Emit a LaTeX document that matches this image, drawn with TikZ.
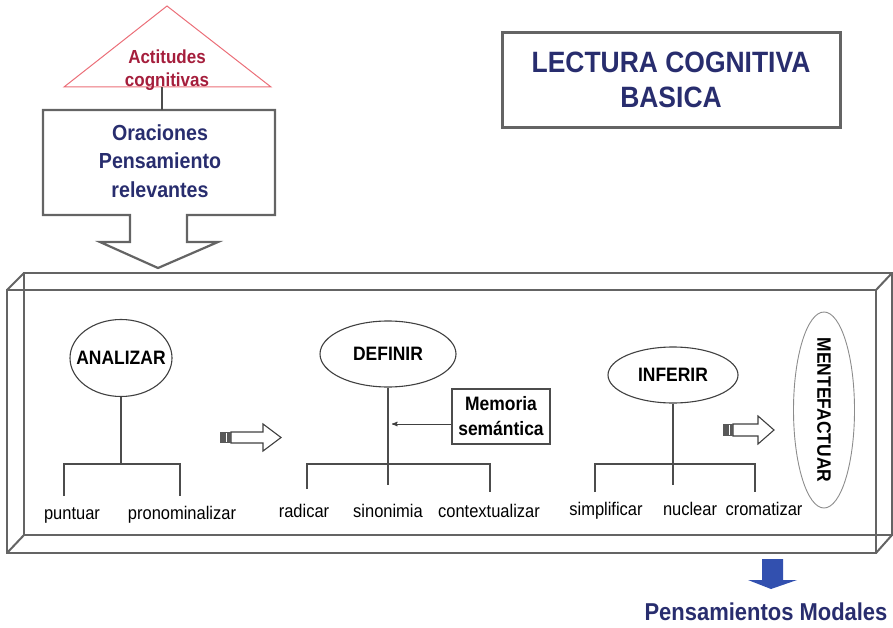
\documentclass[tikz,border=0pt]{standalone}
\usepackage{fontspec}
\setmainfont{Liberation Sans}[FakeStretch=0.9]
\usetikzlibrary{shapes.geometric, positioning, arrows}
\definecolor{navy}{RGB}{40,45,110}
\definecolor{vino}{RGB}{165,30,60}
\definecolor{rosa}{RGB}{235,110,120}
\definecolor{gris}{RGB}{100,100,100}
\definecolor{azul}{RGB}{50,80,175}
\tikzset{
x=1pt, y=-1pt, % one unit per pixel of the sketch, y going down
>=stealth', % small filled tips
idea/.style={ellipse, draw=black!75, line width=1.1pt}, % the verbs
idea text/.style={font=\bfseries\fontsize{19.4}{23}\selectfont},
hoja/.style={anchor=base, inner sep=0pt, font=\fontsize{18.3}{22}\selectfont}, % words under each bracket
rama/.style={draw=black!70, line width=1.2pt}, % tree lines
marco/.style={draw=gris, line width=2.2pt}, % frames
flecha/.style={draw=black!75, line width=1.1pt, fill=white}, % hollow block arrows
}
\begin{document}
\begin{tikzpicture}
\useasboundingbox (0,0) rectangle (893,628);

% title
\node[marco, line width=3pt, minimum width=338pt, minimum height=95pt, align=center,
      text=navy, font=\bfseries\fontsize{29.4}{35}\selectfont] (titulo) at (671,80) {LECTURA COGNITIVA\\BASICA};

% triangle and the box with its arrow
\draw[rosa, line width=1pt] (167,6) -- (271,87) -- (64,87) -- cycle;
\node[inner sep=0pt, align=center, text=vino, font=\bfseries\fontsize{18.9}{23}\selectfont] (act) at (167,70) {Actitudes\\cognitivas};
\node[inner sep=0pt, align=center, text=navy, font=\bfseries\fontsize{21.8}{28.5}\selectfont] (ora) at (160,161) {Oraciones\\Pensamiento\\relevantes};
\draw[marco] (43,110) -- (275,110) -- (275,215) -- (187,215) -- (187,242) -- (218,242)
      -- (158,268) -- (100,242) -- (130,242) -- (130,215) -- (43,215) -- cycle;
\coordinate (tri) at (162,87);
\coordinate (oratop) at (162,110);
\draw[rama] (tri) -- (oratop);

% the long box
\draw[marco, line width=2pt] (24,273) rectangle (892,535);
\draw[marco, line width=2pt] (7,290) rectangle (876,553);
\draw[marco, line width=2pt] (7,290) -- (24,273) (7,553) -- (24,535) (876,290) -- (892,273) (876,553) -- (892,535);

% verbs
\node[idea, minimum width=102pt, minimum height=77pt, label={[idea text]center:ANALIZAR}] (ana) at (121,358) {};
\node[idea, minimum width=136pt, minimum height=66pt, label={[idea text]center:DEFINIR}] (def) at (388,354) {};
\node[idea, minimum width=130pt, minimum height=56pt, label={[idea text]center:INFERIR}] (inf) at (673,375) {};
\node[ellipse, draw=black!45, line width=0.9pt, minimum width=61pt, minimum height=196pt,
      label={[idea text, rotate=-90]center:MENTEFACTUAR}] (mente) at (824,410) {};
\node[draw=black!70, line width=1.2pt, minimum width=98pt, minimum height=55pt, align=center,
      font=\bfseries\fontsize{19.4}{25}\selectfont] (mem) at (501,416.5) {Memoria\\semántica};

% ANALIZAR tree
\coordinate (ja) at (121,464);
\coordinate (a1) at (64,496);
\coordinate (a2) at (180,496);
\draw[rama] (ana) -- (ja);
\draw[rama] (a1) |- (ja) -| (a2);
\node[hoja] (puntuar) at (72,519) {puntuar};
\node[hoja] (pronom) at (182,519) {pronominalizar};

% DEFINIR tree
\coordinate (kd) at (388,464);
\coordinate (jd) at (388,485);
\coordinate (d1) at (307,489);
\coordinate (d2) at (490,492);
\draw[rama] (def) -- (jd);
\draw[rama] (d1) |- (kd) -| (d2);
\node[hoja] (radicar) at (304,517) {radicar};
\node[hoja] (sinonimia) at (388,517) {sinonimia};
\node[hoja] (context) at (489,517) {contextualizar};
\coordinate (mi) at ([yshift=-7.5pt]mem.west);
\draw[->, black!75, line width=1pt, shorten >=4pt] (mi) -- (mi -| jd);

% INFERIR tree
\coordinate (ki) at (673,464);
\coordinate (ji) at (673,485);
\coordinate (i1) at (595,492);
\coordinate (i2) at (755,492);
\draw[rama] (inf) -- (ji);
\draw[rama] (i1) |- (ki) -| (i2);
\node[hoja] (simpl) at (606,515) {simplificar};
\node[hoja] (nuclear) at (690,515) {nuclear};
\node[hoja] (croma) at (764,515) {cromatizar};

% block arrows
\draw[flecha] (231,432) -- (263,432) -- (263,424) -- (281,437.5) -- (263,451) -- (263,443) -- (231,443) -- cycle;
\fill[black!65] (220,432) rectangle (231,443);
\draw[white, line width=1pt] (226,433) -- (226,442);
\draw[flecha] (733,424) -- (758,424) -- (758,416) -- (774,430) -- (758,444) -- (758,436) -- (733,436) -- cycle;
\fill[black!65] (723,424) rectangle (733,436);
\draw[white, line width=1pt] (729,425) -- (729,435);

% result
\fill[azul] (762,559) -- (783,559) -- (783,580) -- (797,580) -- (771,589) -- (748,580) -- (762,580) -- cycle;
\node[inner sep=0pt, text=navy, font=\bfseries\fontsize{24.4}{28}\selectfont] (pm) at (766,612) {Pensamientos Modales};
\end{tikzpicture}
\end{document}
